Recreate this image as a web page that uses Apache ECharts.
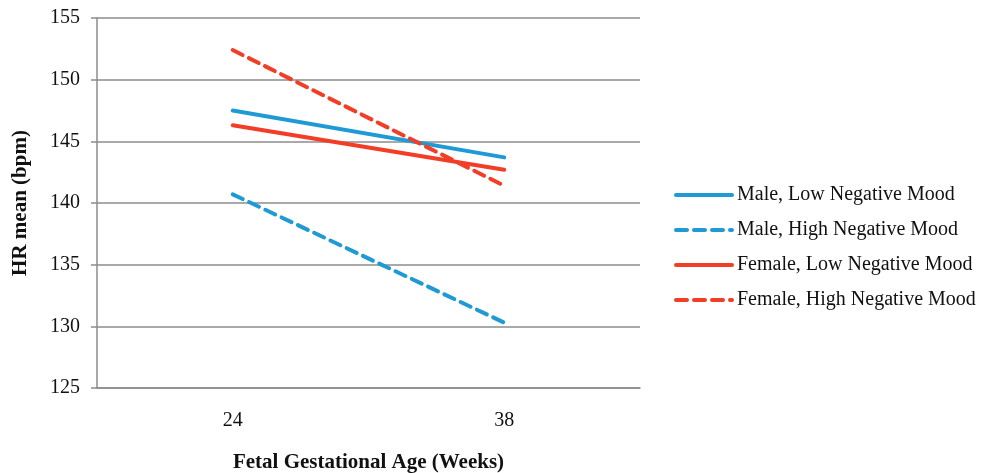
<!DOCTYPE html>
<html><head><meta charset="utf-8">
<script src="https://cdn.jsdelivr.net/npm/echarts@6/dist/echarts.min.js"></script>
<style>html,body{margin:0;padding:0;background:#fff}#c{width:988px;height:473px}</style>
</head><body><div id="c"></div>
<script>
var categories = ['24', '38'];
var maleLow = [147.5, 143.7];
var maleHigh = [140.7, 130.3];
var femaleLow = [146.3, 142.7];
var femaleHigh = [152.4, 141.4];
var seriesNames = ['Male, Low Negative Mood', 'Male, High Negative Mood', 'Female, Low Negative Mood', 'Female, High Negative Mood'];
var BLUE = '#1F9AD4', RED = '#F23E26';
var FONT = 'Liberation Serif';
function mk(name, data, color, dashed) {
  return {
    name: name, type: 'line', data: data, symbol: 'none', silent: true,
    itemStyle: {color: color},
    lineStyle: {color: color, width: 4, type: dashed ? [11, 7] : 'solid', cap: 'round'}
  };
}
var chart = echarts.init(document.getElementById('c'));
chart.setOption({
  animation: false,
  backgroundColor: '#fff',
  grid: {left: 97, right: 348, top: 18, bottom: 85, containLabel: false, outerBoundsMode: 'none'},
  legend: {
    orient: 'vertical', left: 669, top: 180, itemWidth: 56, itemHeight: 14, itemGap: 15,
    textStyle: {fontFamily: FONT, fontSize: 20, color: '#111'},
    itemStyle: {opacity: 0},
    lineStyle: {width: 4},
    data: seriesNames
  },
  xAxis: {
    type: 'category', data: categories, boundaryGap: true,
    name: 'Fetal Gestational Age (Weeks)', nameLocation: 'middle', nameGap: 64,
    nameTextStyle: {fontFamily: FONT, fontSize: 21, fontWeight: 'bold', color: '#111'},
    axisLine: {lineStyle: {color: '#8c8c8c', width: 1.5}},
    axisTick: {length: 6, lineStyle: {color: '#8c8c8c', width: 1.5}},
    axisLabel: {fontFamily: FONT, fontSize: 20, color: '#111', margin: 23},
    splitLine: {show: false}
  },
  yAxis: {
    type: 'value', min: 125, max: 155, interval: 5,
    name: 'HR mean (bpm)', nameLocation: 'middle', nameGap: 66, nameRotate: 90,
    nameTextStyle: {fontFamily: FONT, fontSize: 21, fontWeight: 'bold', color: '#111'},
    axisLine: {show: true, lineStyle: {color: '#8c8c8c', width: 1.5}},
    axisTick: {show: true, length: 6, lineStyle: {color: '#8c8c8c', width: 1.5}},
    axisLabel: {fontFamily: FONT, fontSize: 20, color: '#111', margin: 17},
    splitLine: {lineStyle: {color: '#8c8c8c', width: 1.5}}
  },
  series: [
    mk(seriesNames[0], maleLow, BLUE, false),
    mk(seriesNames[1], maleHigh, BLUE, true),
    mk(seriesNames[2], femaleLow, RED, false),
    mk(seriesNames[3], femaleHigh, RED, true)
  ]
});
</script></body></html>
